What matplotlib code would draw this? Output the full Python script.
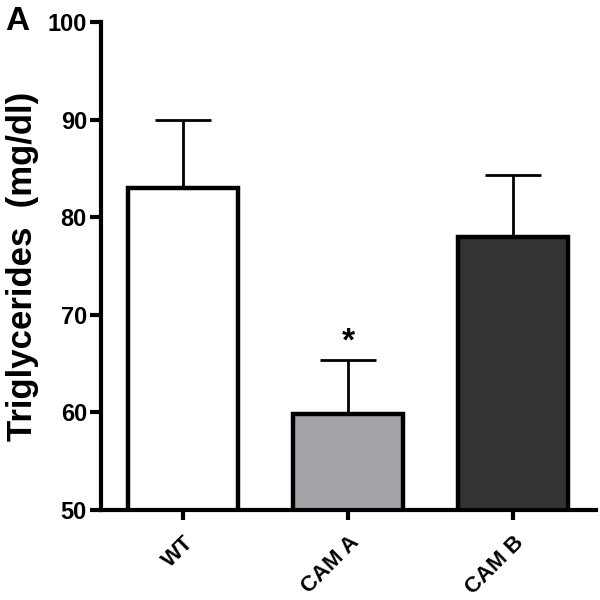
import matplotlib
matplotlib.use("Agg")
import matplotlib.pyplot as plt
import numpy as np

# data
groups = ["WT", "CAM A", "CAM B"]
means = [83.0, 59.8, 78.0]
sem_up = [7.0, 5.6, 6.3]
bar_colors = ["#ffffff", "#a3a4a8", "#333333"]
yticks = [50, 60, 70, 80, 90, 100]

plt.rcParams["font.family"] = ["Liberation Sans", "DejaVu Sans"]
plt.rcParams["font.weight"] = "bold"

fig = plt.figure(figsize=(6, 6), dpi=100)
ax = fig.add_axes([0.168, 0.15, 0.825, 0.813])

x = np.arange(len(groups))
ax.errorbar(x, means, yerr=[np.zeros(len(means)), sem_up], fmt="none",
            ecolor="black", elinewidth=2.0, capsize=20.5, capthick=2.0, zorder=1)
ax.bar(x, means, width=0.667, bottom=0, color=bar_colors,
       edgecolor="black", linewidth=3.2, zorder=2)

# significance mark
ax.text(1, means[1] + sem_up[1] + 0.2, "*", ha="center", va="bottom",
        fontsize=24, fontweight="bold")

ax.set_ylim(50, 100)
ax.set_xlim(-0.5, 2.5)
ax.set_yticks(yticks)
ax.set_xticks(x)
ax.set_xticklabels(groups, rotation=45, ha="right", rotation_mode="anchor",
                   fontsize=16, fontweight="bold")
ax.tick_params(axis="y", labelsize=17, width=3, length=8, pad=2)
ax.tick_params(axis="x", width=3, length=7, pad=9)
for lbl in ax.get_yticklabels():
    lbl.set_fontweight("bold")

for s in ["top", "right"]:
    ax.spines[s].set_visible(False)
for s in ["left", "bottom"]:
    ax.spines[s].set_linewidth(3)

ax.set_ylabel("Triglycerides  (mg/dl)", fontsize=25, fontweight="bold", labelpad=6)

fig.text(0.008, 0.99, "A", fontsize=24, fontweight="bold", va="top", ha="left")

fig.savefig("out.png", dpi=100)
